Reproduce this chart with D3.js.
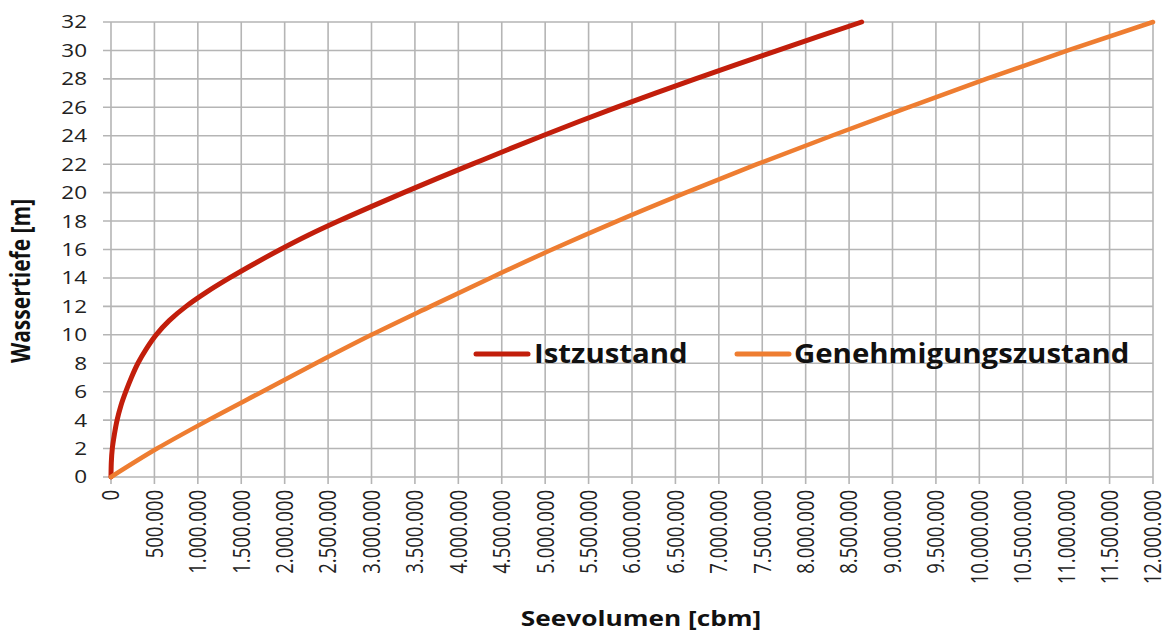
<!DOCTYPE html>
<html><head><meta charset="utf-8">
<script src="https://cdn.jsdelivr.net/npm/d3@7"></script>
<style>body{margin:0;background:#fff}svg{display:block}</style>
</head><body>
<svg id="c" width="1163" height="631"></svg>
<script>
// depth values [m]
const depthsIst = [0,1,2,3,4,5,6,7,8,9,10,11,12,13,14,15,16,17,18,19,20,21,22,23,24,25,26,27,28,29,30,31,32];
// Istzustand volumes [cbm]
const volIst = [0,3300,15000,39000,70000,113000,170000,235000,310000,405000,520000,670000,865000,1100000,1365000,1650000,1950000,2270000,2620000,2990000,3370000,3760000,4160000,4560000,4970000,5390000,5820000,6270000,6730000,7200000,7680000,8160000,8645000];
const depthsGen = [0,2,4,6,8,10,12,14,16,18,20,22,24,26,28,30,32];
// Genehmigungszustand volumes [cbm]
const volGen = [0,530000,1120000,1740000,2360000,3000000,3680000,4370000,5080000,5830000,6620000,7440000,8300000,9180000,10080000,11020000,12000000];
const yTicks = d3.range(0,33,2);
const xTicks = d3.range(0,12000001,500000);
const seriesNames = ["Istzustand","Genehmigungszustand"];
const colors = ["#C21E0B","#EE7D31"];

const svg = d3.select("#c");
const L=111,R=1153,T=22,B=477;
const x = d3.scaleLinear().domain([0,12000000]).range([L,R]);
const y = d3.scaleLinear().domain([0,32]).range([B,T]);
const de = d3.formatLocale({decimal:",",thousands:".",grouping:[3],currency:["","€"]});
const fmt = de.format(",d");
const FONT = "'Open Sans', 'DejaVu Sans', sans-serif";
const SX = 1.25;

// grid
const grid = svg.append("g").attr("stroke","#b5b5b5").attr("stroke-width",1.6);
grid.selectAll("line.h").data(yTicks).join("line")
  .attr("x1",L-8).attr("x2",R).attr("y1",d=>y(d)).attr("y2",d=>y(d));
grid.selectAll("line.v").data(xTicks).join("line")
  .attr("y1",T).attr("y2",B+7).attr("x1",d=>x(d)).attr("x2",d=>x(d));

// y tick labels
svg.append("g").selectAll("text").data(yTicks).join("text")
  .attr("transform",d=>`translate(87,${y(d)}) scale(${SX},1)`)
  .attr("dy","0.36em").attr("text-anchor","end")
  .attr("font-family",FONT).attr("font-size",18).attr("fill","#222")
  .text(d=>d);

// x tick labels
svg.append("g").selectAll("text").data(xTicks).join("text")
  .attr("transform",d=>`translate(${x(d)},490) scale(${SX},1) rotate(-90)`)
  .attr("dy","0.36em").attr("text-anchor","end")
  .attr("font-family",FONT).attr("font-size",18.5).attr("fill","#222")
  .text(d=>fmt(d));

// lines
const line = d3.line().x(d=>x(d[0])).y(d=>y(d[1])).curve(d3.curveMonotoneY);
svg.append("path").datum(volIst.map((v,i)=>[v,depthsIst[i]]))
  .attr("d",line).attr("fill","none").attr("stroke",colors[0]).attr("stroke-width",5).attr("stroke-linecap","round");
svg.append("path").datum(volGen.map((v,i)=>[v,depthsGen[i]]))
  .attr("d",line).attr("fill","none").attr("stroke",colors[1]).attr("stroke-width",4.5).attr("stroke-linecap","round");

// axis titles
svg.append("text").attr("transform",`translate(30,281) scale(${SX},1) rotate(-90)`)
  .attr("text-anchor","middle").attr("font-family",FONT).attr("font-weight","bold").attr("font-size",21).attr("fill","#111")
  .text("Wassertiefe [m]");
svg.append("text").attr("transform",`translate(641,626) scale(${SX},1)`)
  .attr("text-anchor","middle").attr("font-family",FONT).attr("font-weight","bold").attr("font-size",21).attr("fill","#111")
  .text("Seevolumen [cbm]");

// legend
const leg = [{x1:476,x2:528,tx:534},{x1:737,x2:789,tx:794}];
const lg = svg.append("g");
leg.forEach((p,i)=>{
  lg.append("line").attr("x1",p.x1).attr("x2",p.x2).attr("y1",354).attr("y2",354)
    .attr("stroke",colors[i]).attr("stroke-width",5).attr("stroke-linecap","round");
  lg.append("text").attr("transform",`translate(${p.tx},363) scale(1.13,1)`)
    .attr("font-family",FONT).attr("font-weight","bold").attr("font-size",26).attr("fill","#111")
    .text(seriesNames[i]);
});
</script>
</body></html>
